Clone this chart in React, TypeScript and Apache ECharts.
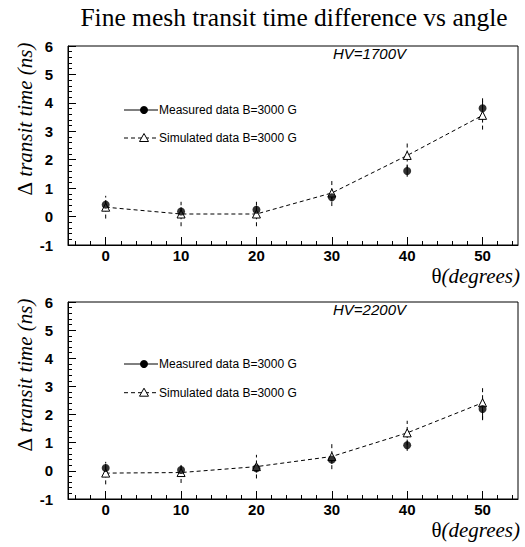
import React, { useEffect, useRef } from "react";
import * as echarts from "echarts";

const THETA = [0, 10, 20, 30, 40, 50];
const MEAS_1700 = [0.42, 0.18, 0.24, 0.68, 1.6, 3.81];
const MEAS_1700_ERR = [0.15, 0.15, 0.15, 0.15, 0.2, 0.35];
const SIM_1700 = [0.33, 0.09, 0.09, 0.83, 2.15, 3.56];
const SIM_1700_ERR = [0.4, 0.43, 0.43, 0.46, 0.46, 0.5];
const MEAS_2200 = [0.1, 0.03, 0.09, 0.4, 0.91, 2.2];
const MEAS_2200_ERR = [0.15, 0.15, 0.15, 0.15, 0.2, 0.37];
const SIM_2200 = [-0.08, -0.06, 0.15, 0.51, 1.35, 2.42];
const SIM_2200_ERR = [0.4, 0.37, 0.42, 0.45, 0.43, 0.62];

const X_MAJOR = [0, 10, 20, 30, 40, 50];
const X_MINOR = [-4, -2, 2, 4, 6, 8, 12, 14, 16, 18, 22, 24, 26, 28, 32, 34, 36, 38, 42, 44, 46, 48, 52, 54];

const TITLE = "Fine mesh transit time difference vs angle";
const MEAS_LABEL = "Measured data B=3000 G";
const SIM_LABEL = "Simulated data B=3000 G";
const HV_LABELS = ["HV=1700V", "HV=2200V"];
const Y_DELTA = "Δ";
const Y_TEXT = "transit time (ns)";
const X_THETA = "θ";
const X_TEXT = "(degrees)";

const SANS = "Liberation Sans, Arial, Helvetica, sans-serif";
const SERIF = "Liberation Serif, Times New Roman, serif";

const GRIDS = [
  { left: 68, top: 46, width: 450, height: 199 },
  { left: 68, top: 302, width: 450, height: 197 },
];

function measure(text: string, font: string): number {
  try {
    const c = document.createElement("canvas");
    const ctx = c.getContext("2d");
    if (!ctx) return text.length * 9;
    ctx.font = font;
    return ctx.measureText(text).width;
  } catch (e) {
    return text.length * 9;
  }
}

function errRender(dashed: boolean) {
  return (params: any, api: any) => {
    const x = api.value(0);
    const y = api.value(1);
    const e = api.value(2);
    const p1 = api.coord([x, y - e]);
    const p2 = api.coord([x, y + e]);
    return {
      type: "line",
      shape: { x1: p1[0], y1: p1[1], x2: p2[0], y2: p2[1] },
      style: { stroke: "#000", lineWidth: 1, lineDash: dashed ? [4, 3] : null },
    };
  };
}

export default function App() {
  const ref = useRef<HTMLDivElement>(null);
  useEffect(() => {
    if (!ref.current) return;
    const chart = echarts.init(ref.current, null, { renderer: "svg" });

    const xAxes: any[] = [];
    const yAxes: any[] = [];
    const series: any[] = [];
    const graphics: any[] = [];
    const sets = [
      [MEAS_1700, MEAS_1700_ERR, SIM_1700, SIM_1700_ERR],
      [MEAS_2200, MEAS_2200_ERR, SIM_2200, SIM_2200_ERR],
    ];

    const LBL = 21;
    const wDelta = measure(Y_DELTA + " ", `${LBL}px ${SERIF}`);
    const wYText = measure(Y_TEXT, `italic ${LBL}px ${SERIF}`);
    const wXText = measure(X_TEXT, `italic ${LBL}px ${SERIF}`);
    const yTotal = wDelta + wYText;

    GRIDS.forEach((g, gi) => {
      xAxes.push({
        type: "value",
        gridIndex: gi,
        min: -5,
        max: 54.7,
        position: "bottom",
        axisLine: { show: true, onZero: false, lineStyle: { color: "#000", width: 1 } },
        axisTick: { show: true, inside: true, length: 8, customValues: X_MAJOR, lineStyle: { color: "#000" } },
        axisLabel: {
          show: true,
          customValues: X_MAJOR,
          color: "#000",
          fontFamily: SANS,
          fontWeight: "bold",
          fontSize: 15,
          margin: 3,
        },
        splitLine: { show: false },
      });
      xAxes.push({
        type: "value",
        gridIndex: gi,
        min: -5,
        max: 54.7,
        position: "bottom",
        axisLine: { show: false, onZero: false },
        axisTick: { show: true, inside: true, length: 4, customValues: X_MINOR, lineStyle: { color: "#000" } },
        axisLabel: { show: false },
        splitLine: { show: false },
      });
      yAxes.push({
        type: "value",
        gridIndex: gi,
        min: -1,
        max: 6,
        interval: 1,
        axisLine: { show: true, onZero: false, lineStyle: { color: "#000", width: 1 } },
        axisTick: { show: true, inside: true, length: 8, lineStyle: { color: "#000" } },
        minorTick: { show: true, splitNumber: 5, length: 4, lineStyle: { color: "#000" } },
        axisLabel: {
          color: "#000",
          fontFamily: SANS,
          fontWeight: "bold",
          fontSize: 15,
          margin: 15,
        },
        splitLine: { show: false },
      });

      const [meas, measErr, sim, simErr] = sets[gi];
      const xi = gi * 2;
      series.push({
        type: "custom",
        xAxisIndex: xi,
        yAxisIndex: gi,
        renderItem: errRender(true),
        data: THETA.map((t, i) => [t, sim[i], simErr[i]]),
        encode: { x: 0, y: 1 },
        z: 2,
      });
      series.push({
        type: "custom",
        xAxisIndex: xi,
        yAxisIndex: gi,
        renderItem: errRender(false),
        data: THETA.map((t, i) => [t, meas[i], measErr[i]]),
        encode: { x: 0, y: 1 },
        z: 3,
      });
      series.push({
        type: "line",
        name: SIM_LABEL,
        xAxisIndex: xi,
        yAxisIndex: gi,
        data: THETA.map((t, i) => [t, sim[i]]),
        symbol: "triangle",
        symbolSize: 8,
        showSymbol: true,
        lineStyle: { color: "#000", width: 1, type: [4, 3] },
        itemStyle: { color: "#fff", borderColor: "#000", borderWidth: 1 },
        z: 4,
      });
      series.push({
        type: "scatter",
        name: MEAS_LABEL,
        xAxisIndex: xi,
        yAxisIndex: gi,
        data: THETA.map((t, i) => [t, meas[i]]),
        symbol: "circle",
        symbolSize: 8,
        itemStyle: { color: "#000" },
        z: 5,
      });

      // legend
      const ly1 = g.top + (gi === 0 ? 64 : 62);
      const ly2 = ly1 + (gi === 0 ? 28 : 28.7);
      const yCenter = g.top + 73;
      const yStart = yCenter + yTotal / 2;
      const xLabelY = g.top + g.height + 31;
      graphics.push(
        { type: "line", shape: { x1: 124, y1: ly1, x2: 158, y2: ly1 }, style: { stroke: "#000", lineWidth: 1 }, z: 10 },
        { type: "circle", shape: { cx: 144, cy: ly1, r: 4 }, style: { fill: "#000" }, z: 11 },
        {
          type: "text",
          x: 159,
          y: ly1,
          style: { text: MEAS_LABEL, fontFamily: SANS, fontSize: 12, fill: "#000", verticalAlign: "middle", align: "left" },
          z: 11,
        },
        { type: "line", shape: { x1: 124, y1: ly2, x2: 158, y2: ly2 }, style: { stroke: "#000", lineWidth: 1, lineDash: [4, 3] }, z: 10 },
        {
          type: "polygon",
          shape: { points: [[144, ly2 - 4.5], [148.5, ly2 + 3.5], [139.5, ly2 + 3.5]] },
          style: { fill: "#fff", stroke: "#000", lineWidth: 1 },
          z: 11,
        },
        {
          type: "text",
          x: 159,
          y: ly2,
          style: { text: SIM_LABEL, fontFamily: SANS, fontSize: 12, fill: "#000", verticalAlign: "middle", align: "left" },
          z: 11,
        },
        {
          type: "text",
          x: 369.5,
          y: g.top + 7.5,
          style: {
            text: HV_LABELS[gi],
            fontFamily: SANS,
            fontStyle: "italic",
            fontSize: 15,
            fill: "#000",
            verticalAlign: "middle",
            align: "center",
          },
          z: 11,
        },
        {
          type: "text",
          x: 25,
          y: yStart,
          rotation: Math.PI / 2,
          style: { text: Y_DELTA, fontFamily: SERIF, fontSize: LBL, fill: "#000", align: "left", verticalAlign: "middle" },
          z: 11,
        },
        {
          type: "text",
          x: 25,
          y: yStart - wDelta,
          rotation: Math.PI / 2,
          style: {
            text: Y_TEXT,
            fontFamily: SERIF,
            fontStyle: "italic",
            fontSize: LBL,
            fill: "#000",
            align: "left",
            verticalAlign: "middle",
          },
          z: 11,
        },
        {
          type: "text",
          x: 520,
          y: xLabelY,
          style: {
            text: X_TEXT,
            fontFamily: SERIF,
            fontStyle: "italic",
            fontSize: LBL,
            fill: "#000",
            align: "right",
            verticalAlign: "middle",
          },
          z: 11,
        },
        {
          type: "text",
          x: 520 - wXText,
          y: xLabelY,
          style: { text: X_THETA, fontFamily: SERIF, fontSize: LBL, fill: "#000", align: "right", verticalAlign: "middle" },
          z: 11,
        }
      );
    });

    graphics.push({
      type: "text",
      x: 294,
      y: 17,
      style: { text: TITLE, fontFamily: SERIF, fontSize: 25.5, fill: "#000", align: "center", verticalAlign: "middle" },
      z: 11,
    });

    chart.setOption({
      animation: false,
      backgroundColor: "#fff",
      grid: GRIDS.map((g) => ({
        left: g.left,
        top: g.top,
        width: g.width,
        height: g.height,
        show: true,
        borderColor: "#000",
        borderWidth: 1,
        backgroundColor: "transparent",
      })),
      xAxis: xAxes,
      yAxis: yAxes,
      series,
      graphic: graphics,
    });
    return () => chart.dispose();
  }, []);
  return (
    <div
      ref={ref}
      style={{ position: "fixed", left: 0, top: 0, width: 525, height: 547, background: "#fff" }}
    />
  );
}
